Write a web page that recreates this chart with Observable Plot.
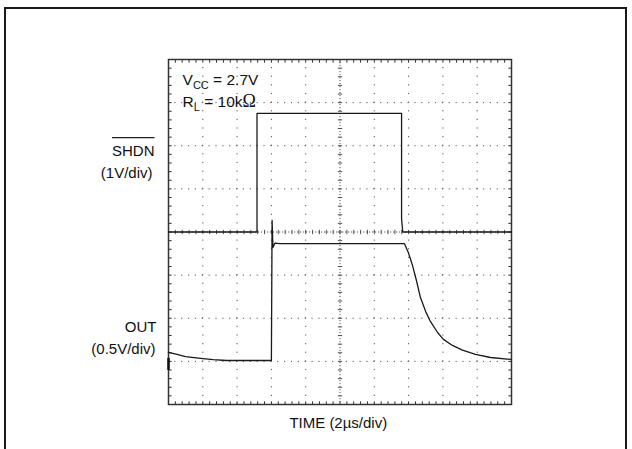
<!DOCTYPE html>
<html><head><meta charset="utf-8">
<script src="https://cdn.jsdelivr.net/npm/d3@7"></script>
<script src="https://cdn.jsdelivr.net/npm/@observablehq/plot@0.6"></script>
<style>
html,body{margin:0;padding:0;background:#fff;}
#wrap{position:relative;width:632px;height:449px;overflow:hidden;background:#fff;}
#chart{position:absolute;left:0;top:0;}
#border{position:absolute;left:4px;top:7px;width:623px;height:520px;border:2.5px solid #1a1a1a;border-bottom:none;box-sizing:border-box;pointer-events:none;}
</style></head><body>
<div id="wrap"><div id="chart"></div><div id="border"></div></div>
<script>
// ---- data ----
// time in µs (2 µs/div, 10 divisions)
const shdnTime  = [0, 5.16, 5.16, 13.59, 13.59, 13.66, 20];
const shdnVolts = [0, 0,    2.75, 2.75,  0.31,  0,     0];   // 1 V/div

const outTime  = [0, 0.5, 0.99, 1.5, 1.87, 2.6, 3.38, 4.5, 5.98, 6.0, 6.04, 6.09, 6.2, 6.5, 8, 10, 12, 13.76,
                  13.99, 14.23, 14.46, 14.69, 14.99, 15.28, 15.69, 16.03, 16.56, 17.14, 17.9, 18.78, 20];
const outVolts = [0.095, 0.07, 0.045, 0.033, 0.025, 0.01, 0, 0, 0, 0, 1.625, 1.31, 1.36, 1.355, 1.355, 1.355, 1.355, 1.355,
                  1.25, 1.1, 0.925, 0.73, 0.57, 0.45, 0.325, 0.245, 0.175, 0.12, 0.07, 0.035, 0.012]; // 0.5 V/div

const channelLabels = ["SHDN", "(1V/div)", "OUT", "(0.5V/div)"];
const notes = ["VCC = 2.7V", "RL = 10kΩ"];
const xTitle = "TIME (2µs/div)";

// ---- scope settings ----
const shdnPerDiv = 1, shdnZeroDiv = 0;
const outPerDiv = 0.5, outZeroDiv = -2.98;

const shdn = shdnTime.map((t, i) => ({t, d: shdnVolts[i] / shdnPerDiv + shdnZeroDiv}));
const out = outTime.map((t, i) => ({t, d: outVolts[i] / outPerDiv + outZeroDiv}));

const gridT = d3.range(2, 20, 2).filter(t => t !== 10);
const gridD = d3.range(-3, 4, 1).filter(d => d !== 0);
const minorT = d3.range(0, 20.0001, 0.4);
const minorD = d3.range(-4, 4.0001, 0.2);

const vtick = {draw(ctx, size) { const r = Math.sqrt(size / Math.PI); ctx.moveTo(0, -r); ctx.lineTo(0, r); }};
const htick = {draw(ctx, size) { const r = Math.sqrt(size / Math.PI); ctx.moveTo(-r, 0); ctx.lineTo(r, 0); }};
const gridColor = "#555";
const font = "'Liberation Sans', Arial, Helvetica, sans-serif";

const plot = Plot.plot({
  width: 632, height: 449,
  marginLeft: 168, marginRight: 121, marginTop: 59, marginBottom: 45,
  style: {background: "transparent", fontFamily: font, fontSize: "15px", color: "#111"},
  x: {domain: [0, 20], axis: null},
  y: {domain: [-4, 4], axis: null},
  marks: [
    // dotted graticule
    Plot.ruleX(gridT, {x: d => d, stroke: gridColor, strokeWidth: 1, strokeDasharray: "1.2,7.425", strokeDashoffset: 0.6}),
    Plot.ruleY(gridD, {y: d => d, stroke: gridColor, strokeWidth: 1, strokeDasharray: "1.2,5.66", strokeDashoffset: 0.6}),
    // center axes
    Plot.ruleX([10], {x: d => d, stroke: gridColor, strokeWidth: 1, strokeDasharray: "1.2,1.8"}),
    Plot.ruleY([0], {y: d => d, stroke: gridColor, strokeWidth: 1, strokeDasharray: "1.2,1.8"}),
    Plot.dot(minorD, {x: 10, y: d => d, symbol: htick, r: 2.2, fill: "none", stroke: gridColor, strokeWidth: 1}),
    Plot.dot(minorT, {x: d => d, y: 0, symbol: vtick, r: 2.2, fill: "none", stroke: gridColor, strokeWidth: 1}),
    // frame ticks
    Plot.dot(minorT, {x: d => d, y: 4, symbol: vtick, r: 1.6, dy: 1.6, fill: "none", stroke: "#333", strokeWidth: 1}),
    Plot.dot(minorT, {x: d => d, y: -4, symbol: vtick, r: 1.6, dy: -1.6, fill: "none", stroke: "#333", strokeWidth: 1}),
    Plot.dot(minorD, {x: 0, y: d => d, symbol: htick, r: 1.6, dx: 1.6, fill: "none", stroke: "#333", strokeWidth: 1}),
    Plot.dot(minorD, {x: 20, y: d => d, symbol: htick, r: 1.6, dx: -1.6, fill: "none", stroke: "#333", strokeWidth: 1}),
    Plot.frame({stroke: "#333", strokeWidth: 1.5}),
    // OUT ground-level marker on the left edge
    Plot.ruleX([0], {x: d => d, y1: outZeroDiv + 0.05, y2: outZeroDiv - 0.23, stroke: "#111", strokeWidth: 2.5}),
    // traces
    Plot.line(shdn, {x: "t", y: "d", stroke: "#1a1a1a", strokeWidth: 1.3}),
    Plot.line(out, {x: "t", y: "d", stroke: "#1a1a1a", strokeWidth: 1.3}),
    // notes
    Plot.text([notes[0]], {x: 0.82, y: 3.40, text: d => d, textAnchor: "start", lineAnchor: "bottom", fontSize: 15.5, fill: "#111", className: "note-vcc"}),
    Plot.text([notes[1]], {x: 0.82, y: 2.89, text: d => d, textAnchor: "start", lineAnchor: "bottom", fontSize: 15.5, fill: "#111", className: "note-rl"}),
    // channel labels
    Plot.text([channelLabels[0]], {frameAnchor: "left", y: 1.77, dx: -14, text: d => d, textAnchor: "end", lineAnchor: "bottom", fontSize: 15, fill: "#111", className: "lbl-shdn"}),
    Plot.text([channelLabels[1]], {frameAnchor: "left", y: 1.26, dx: -16, text: d => d, textAnchor: "end", lineAnchor: "bottom", fontSize: 15, fill: "#111"}),
    Plot.text([channelLabels[2]], {frameAnchor: "left", y: -2.31, dx: -12, text: d => d, textAnchor: "end", lineAnchor: "bottom", fontSize: 15, fill: "#111"}),
    Plot.text([channelLabels[3]], {frameAnchor: "left", y: -2.82, dx: -13, text: d => d, textAnchor: "end", lineAnchor: "bottom", fontSize: 15, fill: "#111"}),
    // x title
    Plot.text([xTitle], {x: 9.9, y: -4.556, text: d => d, textAnchor: "middle", lineAnchor: "bottom", fontSize: 15, fill: "#111"})
  ]
});

document.getElementById("chart").append(plot);

// subscripts
function richText(cls, parts) {
  const t = d3.select(plot).select("." + cls + " text");
  t.text(null);
  parts.forEach(p => {
    const s = t.append("tspan").text(p.text);
    if (p.dy) s.attr("dy", p.dy);
    if (p.size) s.attr("font-size", p.size);
    if (p.family) s.attr("font-family", p.family);
  });
}
richText("note-vcc", [{text: "V"}, {text: "CC", size: 11, dy: 3.5}, {text: " = 2.7V", size: 15.5, dy: -3.5}]);
richText("note-rl", [{text: "R"}, {text: "L", size: 11, dy: 3.5}, {text: " = 10k", size: 15.5, dy: -3.5}, {text: "Ω", size: 18, family: "'Liberation Serif', 'DejaVu Serif', serif"}]);

// overline on SHDN
const sn = d3.select(plot).select(".lbl-shdn text").node();
if (sn) {
  const bb = sn.getBBox();
  d3.select(sn.parentNode).append("line")
    .attr("transform", sn.getAttribute("transform"))
    .attr("x1", bb.x).attr("x2", bb.x + bb.width)
    .attr("y1", -18).attr("y2", -18)
    .attr("stroke", "#222").attr("stroke-width", 1.2);
}
</script>
</body></html>
